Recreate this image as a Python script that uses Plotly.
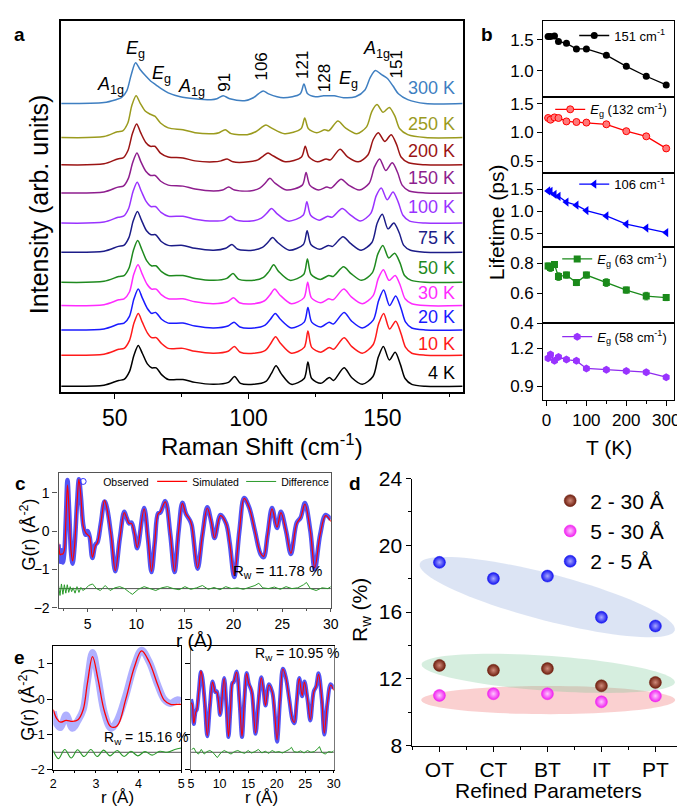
import numpy as np
import plotly.graph_objects as go

W, H = 685, 807
FONT = "Liberation Sans, Arial, Helvetica, sans-serif"


def fx(px):
    return px / W


def fy(py):
    return 1 - py / H


# ================= Panel a : Raman spectra =================
temp_labels = ["4 K", "10 K", "20 K", "30 K", "50 K", "75 K", "100 K", "150 K", "200 K", "250 K", "300 K"]
temp_colors = ["#000000", "#ff1a1a", "#1a1aff", "#ff2bff", "#1f8a1f", "#1c1c88",
               "#9a33ff", "#8e1e8e", "#9b1414", "#9b9b1e", "#3f7fc1"]
stack_offsets = [6, 38, 64, 89, 113, 144, 174, 205, 234, 262, 297]

shift_4K = [30, 46, 51.5, 53.5, 55.5, 57.2, 58.8, 60.3, 62.2, 63.8, 65.5, 67.5, 70, 75.5, 80, 87, 92.5, 94.8, 97, 102, 106.5, 108.5, 110.3, 112.2, 116, 120.8, 122.2, 123.6, 127, 130.2, 131.8, 135.7, 138.5, 142.5, 146.5, 148.5, 150.4, 152.6, 154.8, 156.8, 158.5, 161, 166, 180]
inten_4K = [0, 1, 6, 7, 15, 32, 42, 34, 23, 19, 19, 12, 7, 7, 4, 2, 4, 10, 3, 2, 5, 13, 21, 13, 2, 8, 25, 8, 3, 9, 6, 19, 9, 2, 10, 30, 41, 27, 35, 22, 8, 2, 0, 0]
shift_10K = [30, 46, 51.5, 53.5, 55.5, 57.2, 58.8, 60.3, 62.2, 63.8, 65.5, 67.5, 70, 75.5, 80, 87, 92.4, 94.7, 96.9, 102, 106.3, 108.3, 110.1, 112.0, 116, 120.8, 122.2, 123.6, 127, 130.2, 131.8, 135.7, 138.5, 142.5, 146.6, 148.6, 150.5, 152.7, 155.0, 157.0, 158.7, 161, 166, 180]
inten_10K = [0, 1, 6, 7, 15, 33, 43, 34, 23, 18, 18, 12, 7, 7, 4, 2, 4, 9, 3, 2, 5, 12, 19, 12, 2, 8, 25, 8, 3, 8, 6, 18, 9, 2, 11, 32, 43, 27, 35, 22, 8, 2, 0, 0]
shift_20K = [30, 46, 51.5, 53.5, 55.5, 57.2, 58.8, 60.3, 62.2, 63.8, 65.3, 67.5, 70, 75.5, 80, 87, 92.3, 94.6, 96.8, 102, 106.2, 108.2, 110.0, 111.9, 116, 120.8, 122.2, 123.6, 127, 130.1, 131.7, 135.7, 138.5, 142.5, 146.6, 148.6, 150.5, 152.7, 155.0, 157.0, 158.7, 161, 166, 180]
inten_20K = [0, 1, 6, 7, 14, 32, 42, 33, 22, 17, 18, 11, 7, 7, 4, 2, 4, 8, 3, 2, 5, 11, 17, 11, 2, 8, 23, 8, 3, 8, 6, 18, 9, 2, 10, 30, 41, 25, 35, 22, 8, 2, 0, 0]
shift_30K = [30, 46, 51.5, 53.5, 55.5, 57.1, 58.7, 60.2, 62.1, 63.8, 65.5, 67.5, 70, 75.5, 80, 87, 92.1, 94.4, 96.6, 102, 106.0, 108.0, 109.8, 111.7, 116, 120.7, 122.1, 123.5, 127, 130.0, 131.6, 135.6, 138.4, 142.5, 146.5, 148.5, 150.4, 152.5, 154.8, 156.8, 158.5, 161, 166, 180]
inten_30K = [0, 1, 6, 7, 14, 32, 42, 33, 22, 17, 17, 11, 7, 7, 4, 2, 4, 8, 3, 2, 5, 11, 17, 11, 2, 8, 24, 8, 3, 7, 6, 17, 9, 2, 10, 28, 37, 26, 31, 20, 7, 2, 0, 0]
shift_50K = [30, 46, 51.5, 53.5, 55.4, 57.0, 58.6, 60.1, 62.0, 63.7, 65.4, 67.5, 70, 75.5, 80, 87, 91.9, 94.2, 96.4, 102, 105.6, 107.6, 109.4, 111.3, 115.5, 120.6, 122.0, 123.4, 126.8, 130.0, 131.6, 135.5, 138.3, 142.3, 146.3, 148.3, 150.2, 152.4, 154.6, 156.6, 158.3, 160.8, 166, 180]
inten_50K = [0, 1, 6, 7, 15, 33, 43, 34, 22, 17, 17, 11, 7, 7, 4, 2, 4, 9, 3, 2, 5, 11, 18, 11, 2, 8, 24, 8, 3, 7, 6, 16, 9, 2, 10, 29, 38, 25, 30, 20, 7, 2, 0, 0]
shift_75K = [30, 46, 51.4, 53.4, 55.3, 56.9, 58.5, 60.0, 61.9, 63.6, 65.3, 67.4, 70, 75.5, 80, 87, 91.5, 93.8, 96.0, 101.5, 105.2, 107.2, 109.0, 110.9, 115.2, 120.5, 121.9, 123.3, 126.6, 129.8, 131.4, 135.3, 138.1, 142.1, 146.1, 148.1, 150.0, 152.1, 154.3, 156.3, 158.0, 160.5, 166, 180]
inten_75K = [0, 1, 6, 7, 15, 32, 42, 33, 22, 18, 18, 11, 7, 7, 4, 2, 4, 8, 3, 2, 5, 10, 15, 10, 2, 8, 22, 8, 3, 7, 6, 16, 9, 2, 10, 30, 39, 24, 30, 20, 7, 2, 0, 0]
shift_100K = [30, 46, 51.3, 53.3, 55.2, 56.8, 58.4, 59.9, 61.8, 63.5, 65.2, 67.3, 70, 75.5, 80, 87, 90.9, 93.2, 95.4, 101, 104.8, 106.8, 108.6, 110.5, 114.8, 120.4, 121.8, 123.2, 126.4, 129.6, 131.2, 135.0, 137.8, 141.8, 145.7, 147.7, 149.6, 151.8, 154.0, 156.0, 157.7, 160.2, 166, 180]
inten_100K = [0, 1, 6, 7, 15, 32, 42, 33, 22, 17, 17, 11, 7, 7, 4, 2, 3, 7, 3, 2, 5, 10, 15, 10, 2, 8, 22, 8, 3, 7, 6, 15, 9, 2, 10, 28, 36, 24, 32, 21, 8, 2, 0, 0]
shift_150K = [30, 46, 51.2, 53.2, 55.1, 56.7, 58.3, 59.8, 61.7, 63.4, 65.1, 67.2, 70, 75.5, 80, 87, 90.3, 92.6, 94.8, 100.5, 104.2, 106.2, 108.0, 109.9, 114.2, 120.1, 121.5, 122.9, 126.1, 129.3, 130.9, 134.6, 137.4, 141.4, 145.1, 147.1, 149.0, 151.3, 153.7, 155.7, 157.4, 160, 166, 180]
inten_150K = [0, 1, 6, 7, 15, 31, 41, 32, 22, 18, 18, 12, 8, 7, 4, 2, 3, 6, 3, 2, 5, 10, 15, 10, 3, 8, 21, 8, 3, 6, 5, 14, 8, 3, 10, 27, 35, 23, 31, 21, 8, 2, 0, 0]
shift_200K = [30, 46, 51.1, 53.1, 55.0, 56.6, 58.2, 59.7, 61.6, 63.3, 65.0, 67.1, 70, 75.5, 80, 87, 89.7, 92.0, 94.2, 100, 103.5, 105.5, 107.3, 109.3, 113.8, 119.8, 121.2, 122.6, 125.8, 129.0, 130.6, 134.2, 137.0, 141.0, 144.6, 146.6, 148.5, 150.9, 153.3, 155.3, 157.0, 159.8, 166, 180]
inten_200K = [0, 1, 6, 7, 15, 32, 42, 33, 23, 19, 19, 12, 8, 7, 4, 3, 4, 6, 3, 3, 5, 9, 12, 9, 3, 8, 19, 8, 3, 6, 5, 16, 8, 3, 10, 26, 33, 24, 31, 21, 8, 2, 0, 0]
shift_250K = [30, 46, 51.0, 53.0, 54.9, 56.4, 58.0, 59.6, 61.5, 63.3, 65.0, 67.1, 70, 75.5, 80, 87, 89.0, 91.3, 93.5, 99.5, 102.7, 104.7, 106.5, 108.5, 113.5, 119.6, 121.0, 122.4, 125.5, 128.5, 130.0, 133.4, 136.2, 140.5, 144.1, 146.1, 148.0, 150.3, 152.6, 154.7, 156.5, 159.5, 166, 180]
inten_250K = [0, 1, 6, 7, 15, 33, 43, 35, 27, 24, 22, 15, 10, 8, 5, 4, 5, 8, 4, 3, 6, 10, 13, 10, 4, 9, 20, 9, 5, 8, 7, 17, 10, 4, 11, 27, 34, 26, 31, 22, 9, 3, 0, 0]
shift_300K = [30, 46, 50.5, 52.5, 54.5, 56.2, 57.8, 59.5, 61.7, 63.5, 65.5, 67.5, 70, 74.5, 80, 86, 88.2, 90.5, 93, 98.5, 101.8, 103.7, 105.5, 107.5, 113, 119.3, 120.7, 122.1, 125, 128.0, 129.8, 132.0, 135.5, 140, 143.5, 145.5, 147.4, 149.6, 151.8, 154, 156, 159.5, 166, 180]
inten_300K = [0, 1, 4, 6, 13, 30, 42, 35, 28, 23, 19, 15, 11, 7, 5, 4, 5, 8, 5, 3, 6, 10, 13, 10, 6, 10, 20, 10, 7, 8, 8, 8, 6, 7, 14, 27, 34, 30, 26, 18, 10, 4, 0, 0]

raman_shifts = [shift_4K, shift_10K, shift_20K, shift_30K, shift_50K, shift_75K,
                shift_100K, shift_150K, shift_200K, shift_250K, shift_300K]
raman_intens = [inten_4K, inten_10K, inten_20K, inten_30K, inten_50K, inten_75K,
                inten_100K, inten_150K, inten_200K, inten_250K, inten_300K]

# ================= Panel b : phonon lifetimes =================
T_b = [4, 10, 20, 30, 50, 75, 100, 150, 200, 250, 300]
tau_151 = [1.55, 1.55, 1.56, 1.47, 1.44, 1.35, 1.35, 1.25, 1.07, 0.91, 0.77]
tau_132 = [1.25, 1.22, 1.26, 1.25, 1.19, 1.18, 1.17, 1.14, 1.02, 0.93, 0.72]
err_132 = [0.02, 0.02, 0.02, 0.02, 0.02, 0.02, 0.02, 0.02, 0.03, 0.03, 0.05]
tau_106 = [1.46, 1.45, 1.38, 1.34, 1.21, 1.14, 1.02, 0.90, 0.72, 0.63, 0.53]
tau_63 = [0.78, 0.77, 0.79, 0.71, 0.72, 0.67, 0.72, 0.67, 0.62, 0.58, 0.57]
err_63 = [0.02, 0.025, 0.02, 0.025, 0.02, 0.02, 0.02, 0.025, 0.02, 0.025, 0.02]
tau_58 = [1.12, 1.15, 1.10, 1.13, 1.11, 1.10, 1.04, 1.03, 1.02, 1.01, 0.97]
err_58 = [0.01, 0.01, 0.01, 0.01, 0.01, 0.01, 0.01, 0.01, 0.01, 0.01, 0.01]

# ================= Panel c / e : PDF G(r) =================
gr_r = [2.0, 2.1, 2.17, 2.3, 2.45, 2.6, 2.75, 2.92, 3.1, 3.3, 3.45, 3.65, 3.9, 4.1, 4.3,
        4.55, 4.8, 5.0, 5.2, 5.48, 5.8, 6.0, 6.35, 6.73, 6.97, 7.4, 7.84, 8.3, 8.76, 9.0,
        9.26, 9.5, 9.8, 10.1, 10.8, 11.2, 11.56, 11.9, 12.24, 12.47, 12.98, 13.5, 13.93, 14.35, 14.74,
        15.1, 15.5, 15.7, 16.3, 16.8, 17.3, 17.7, 18.05, 18.65, 19.23, 19.6, 20.07, 20.6, 21.09, 21.6,
        22.2, 22.78, 23.1, 23.5, 23.96, 24.47, 24.87, 25.4, 25.9, 26.5, 26.9, 27.34, 27.9, 28.35, 28.9,
        29.47, 30.0]
gr_obs = [-0.35, -0.72, -0.8, -0.5, -0.82, -0.55, 0.3, 1.33, 0.5, -0.6, -0.85, -0.4, 0.7, 1.35, 0.9,
          0.15, -0.1, 0.0, -0.15, -0.7, -0.35, -0.3, 0.2, 0.77, 0.62, -0.1, -1.05, -0.2, 0.5, 0.35,
          0.2, 0.22, -0.05, -0.45, 0.6, -0.2, -1.07, -0.3, 0.46, 0.48, 0.78, -0.1, -1.07, 0.0, 0.74,
          0.45, 0.28, 0.15, -0.98, -0.1, 0.62, 0.25, -0.18, 0.42, 0.2, -0.3, -1.2, 0.0, 0.86, 0.62,
          0.0, -0.6, -0.68, -0.1, 0.6, 0.08, 0.5, 0.0, -0.6, 0.22, 0.35, 0.73, 0.0, -1.0, -0.1,
          0.42, 0.3]
gr_sim = [-0.3, -0.55, -0.62, -0.6, -0.6, -0.5, 0.25, 1.2, 0.45, -0.55, -0.78, -0.4, 0.7, 1.35, 0.9,
          0.12, -0.05, -0.1, -0.15, -0.68, -0.38, -0.3, 0.2, 0.8, 0.6, -0.1, -1.03, -0.2, 0.48, 0.35,
          0.2, 0.2, -0.05, -0.43, 0.58, -0.2, -1.05, -0.3, 0.45, 0.5, 0.76, -0.1, -1.05, 0.0, 0.72,
          0.45, 0.3, 0.15, -0.96, -0.1, 0.6, 0.25, -0.18, 0.4, 0.2, -0.3, -1.15, 0.0, 0.85, 0.62,
          0.0, -0.58, -0.66, -0.1, 0.58, 0.1, 0.48, 0.0, -0.58, 0.2, 0.35, 0.7, 0.0, -0.96, -0.1,
          0.4, 0.25]
diff_r = [2.0, 2.15, 2.3, 2.45, 2.6, 2.75, 2.9, 3.05, 3.2, 3.35, 3.5, 3.7, 3.9, 4.1, 4.3,
          4.5, 4.8, 5.1, 5.5, 5.9, 6.3, 6.8, 7.3, 7.8, 8.3, 8.8, 9.3, 9.6, 10.2, 10.8,
          11.4, 12.0, 12.6, 13.2, 13.8, 14.4, 15.0, 15.6, 16.2, 16.8, 17.4, 18.0, 18.6, 19.2, 19.8,
          20.4, 21.0, 21.6, 22.2, 22.6, 23.0, 23.6, 24.2, 24.8, 25.4, 26.0, 26.6, 27.2, 27.5, 27.9,
          28.5, 29.1, 29.7, 30.0]
diff_g = [-1.42, -1.68, -1.38, -1.65, -1.4, -1.62, -1.4, -1.6, -1.45, -1.58, -1.48, -1.62, -1.45, -1.6, -1.47,
          -1.55, -1.5, -1.42, -1.38, -1.5, -1.55, -1.42, -1.55, -1.48, -1.45, -1.5, -1.6, -1.65, -1.52, -1.45,
          -1.5, -1.55, -1.48, -1.45, -1.5, -1.53, -1.45, -1.52, -1.48, -1.42, -1.52, -1.47, -1.53, -1.45, -1.5,
          -1.48, -1.52, -1.47, -1.42, -1.36, -1.48, -1.5, -1.46, -1.52, -1.45, -1.5, -1.48, -1.4, -1.34, -1.5,
          -1.55, -1.48, -1.5, -1.45]

e_short_r = [2.0, 2.08, 2.17, 2.3, 2.45, 2.58, 2.7, 2.8, 2.92, 3.05, 3.2, 3.35, 3.5, 3.7, 3.9,
             4.07, 4.25, 4.45, 4.6, 4.75, 4.9, 5.0]
e_short_obs = [-0.35, -0.7, -0.8, -0.45, -0.82, -0.6, -0.3, 0.5, 1.32, 0.6, -0.4, -0.82, -0.6, 0.1, 0.95,
               1.38, 1.05, 0.4, 0.0, -0.12, -0.02, -0.05]
e_short_sim = [-0.3, -0.55, -0.65, -0.6, -0.63, -0.58, -0.3, 0.45, 1.2, 0.55, -0.35, -0.78, -0.75, 0.0, 0.9,
               1.36, 1.05, 0.4, -0.03, -0.15, -0.15, -0.15]
e_short_diff_r = [2.0, 2.12, 2.27, 2.42, 2.57, 2.72, 2.88, 3.03, 3.18, 3.33, 3.5, 3.66, 3.82, 3.98, 4.15,
                  4.32, 4.5, 4.67, 4.85, 5.0]
e_short_diff = [-1.45, -1.68, -1.42, -1.66, -1.43, -1.62, -1.42, -1.62, -1.44, -1.6, -1.45, -1.62, -1.47, -1.6, -1.48,
                -1.58, -1.47, -1.5, -1.42, -1.38]

# ================= Panel d : Rw vs refined parameters =================
refined_params = ["OT", "CT", "BT", "IT", "PT"]
rw_2_30 = [12.81, 12.52, 12.62, 11.59, 11.79]
rw_5_30 = [11.01, 11.11, 11.11, 10.63, 10.98]
rw_2_5 = [18.98, 18.01, 18.16, 15.69, 15.17]

# ================= Figure =================
fig = go.Figure()

# ---- panel a traces
for lab, col, off, xs, ys in zip(temp_labels, temp_colors, stack_offsets, raman_shifts, raman_intens):
    fig.add_trace(go.Scatter(x=xs, y=[off + v for v in ys], mode="lines",
                             line=dict(color=col, width=1.5, shape="spline", smoothing=0.8),
                             showlegend=False, xaxis="x", yaxis="y", hoverinfo="skip"))

# ---- panel b traces
b_series = [
    (tau_151, None, "151 cm<sup>-1</sup>", "black", dict(symbol="circle", size=7, color="black"), "legend"),
    (tau_132, err_132, "<i>E</i><sub>g</sub> (132 cm<sup>-1</sup>)", "red",
     dict(symbol="circle", size=7, color="#ff7a7a", line=dict(color="red", width=1)), "legend2"),
    (tau_106, None, "106 cm<sup>-1</sup>", "blue", dict(symbol="triangle-left", size=8, color="blue"), "legend3"),
    (tau_63, err_63, "<i>E</i><sub>g</sub> (63 cm<sup>-1</sup>)", "#1a8a1a",
     dict(symbol="square", size=7, color="#1a8a1a"), "legend4"),
    (tau_58, err_58, "<i>E</i><sub>g</sub> (58 cm<sup>-1</sup>)", "#8f2bef",
     dict(symbol="hexagon", size=8, color="#9933ff"), "legend5"),
]
for i, (vals, errs, name, col, mk, lg) in enumerate(b_series):
    axn = str(i + 2)
    ekw = {}
    if errs is not None:
        ekw = dict(error_y=dict(type="data", array=errs, visible=True, color=col, thickness=1, width=2))
    fig.add_trace(go.Scatter(x=T_b, y=vals, mode="lines+markers", name=name,
                             line=dict(color=col, width=1.3), marker=mk,
                             xaxis="x" + axn, yaxis="y" + axn, legend=lg, **ekw))

# ---- panel c traces
fig.add_trace(go.Scatter(x=gr_r, y=gr_obs, mode="lines", line=dict(color="rgba(40,40,240,0.8)", width=4.5, shape="spline"),
                         showlegend=False, xaxis="x7", yaxis="y7"))
fig.add_trace(go.Scatter(x=[None], y=[None], mode="markers", name="Observed",
                         marker=dict(symbol="circle-open", size=6, color="#3333ff"),
                         xaxis="x7", yaxis="y7", legend="legend6"))
fig.add_trace(go.Scatter(x=gr_r, y=gr_sim, mode="lines", name="Simulated",
                         line=dict(color="red", width=1.2, shape="spline"),
                         xaxis="x7", yaxis="y7", legend="legend6"))
fig.add_trace(go.Scatter(x=diff_r, y=diff_g, mode="lines", name="Difference",
                         line=dict(color="#2a9a2a", width=1),
                         xaxis="x7", yaxis="y7", legend="legend6"))

# ---- panel e traces (left 2-5 A, right 5-30 A)
fig.add_trace(go.Scatter(x=e_short_r, y=e_short_obs, mode="lines",
                         line=dict(color="rgba(80,80,255,0.45)", width=7, shape="spline"),
                         showlegend=False, xaxis="x9", yaxis="y9"))
fig.add_trace(go.Scatter(x=e_short_r, y=e_short_sim, mode="lines",
                         line=dict(color="red", width=1.3, shape="spline"),
                         showlegend=False, xaxis="x9", yaxis="y9"))
fig.add_trace(go.Scatter(x=e_short_diff_r, y=e_short_diff, mode="lines",
                         line=dict(color="#2a9a2a", width=1.1, shape="spline"),
                         showlegend=False, xaxis="x9", yaxis="y9"))

long_r = [r for r in gr_r if r >= 5]
long_obs = [g for r, g in zip(gr_r, gr_obs) if r >= 5]
long_sim = [g for r, g in zip(gr_r, gr_sim) if r >= 5]
long_dr = [r for r in diff_r if r >= 5]
long_dg = [g for r, g in zip(diff_r, diff_g) if r >= 5]
fig.add_trace(go.Scatter(x=long_r, y=long_obs, mode="lines",
                         line=dict(color="rgba(40,40,240,0.8)", width=4, shape="spline"),
                         showlegend=False, xaxis="x10", yaxis="y10"))
fig.add_trace(go.Scatter(x=long_r, y=long_sim, mode="lines",
                         line=dict(color="red", width=1.1, shape="spline"),
                         showlegend=False, xaxis="x10", yaxis="y10"))
fig.add_trace(go.Scatter(x=long_dr, y=long_dg, mode="lines",
                         line=dict(color="#2a9a2a", width=1),
                         showlegend=False, xaxis="x10", yaxis="y10"))

# ---- panel d traces
d_series = [
    (rw_2_30, "2 - 30 Å", "#6e1e0e", "#d08a7a"),
    (rw_5_30, "5 - 30 Å", "#f020f0", "#ffc8ff"),
    (rw_2_5, "2 - 5 Å", "#1515f0", "#a8a8ff"),
]
for vals, name, col, hi in d_series:
    fig.add_trace(go.Scatter(x=list(range(len(refined_params))), y=vals, mode="markers", name=name,
                             marker=dict(size=12, color=col, line=dict(color=col, width=0.5),
                                         gradient=dict(type="radial", color=hi)),
                             xaxis="x8", yaxis="y8", legend="legend7"))

# ================= Axes =================
def ax(domain, rng, anchor, **kw):
    d = dict(domain=domain, range=rng, anchor=anchor, showline=True, linecolor="black", linewidth=1.2,
             mirror=True, ticks="outside", ticklen=5, tickwidth=1.1, tickcolor="black",
             showgrid=False, zeroline=False, fixedrange=True,
             tickfont=dict(family=FONT, size=14, color="black"))
    d.update(kw)
    return d


layout = dict(
    width=W, height=H, autosize=False,
    margin=dict(l=0, r=0, t=0, b=0),
    paper_bgcolor="white", plot_bgcolor="rgba(0,0,0,0)",
    font=dict(family=FONT, color="black"),
)

# panel a
layout["xaxis"] = ax([fx(51), fx(459)], [30, 180], "y", tickvals=[50, 100, 150],
                     tickfont=dict(family=FONT, size=23, color="black"), linewidth=1.5,
                     minor=dict(tickvals=[75, 125, 175], ticks="outside", ticklen=3, tickcolor="black"))
layout["yaxis"] = ax([fy(383), fy(1)], [0, 382], "x", showticklabels=False, ticks="", linewidth=1.5)

# panel b
rows_b = [(1, 79), (79, 157), (157, 234), (234, 312), (312, 391)]
ranges_b = [[0.58, 1.80], [0.30, 1.62], [0.20, 1.87], [0.40, 0.905], [0.79, 1.40]]
ticks_b = [[1.0, 1.5], [0.5, 1.0, 1.5], [0.5, 1.0, 1.5], [0.4, 0.6, 0.8], [0.9, 1.2]]
for i, ((top, bot), rng, tv) in enumerate(zip(rows_b, ranges_b, ticks_b)):
    n = str(i + 2)
    last = i == 4
    xkw = dict(tickvals=[0, 100, 200, 300], tickfont=dict(family=FONT, size=17, color="black"),
               minor=dict(tickvals=[50, 150, 250], ticks="outside", ticklen=3, tickcolor="black"))
    if not last:
        xkw.update(showticklabels=False, ticks="")
        xkw.pop("minor")
    layout["xaxis" + n] = ax([fx(541), fx(674)], [-8, 320], "y" + n, **xkw)
    layout["yaxis" + n] = ax([fy(bot), fy(top)], rng, "x" + n, tickvals=tv, tickformat=".1f",
                             tickfont=dict(family=FONT, size=17, color="black"))

# panel c
layout["xaxis7"] = ax([fx(48.3), fx(325)], [2, 30], "y7", tickvals=[5, 10, 15, 20, 25, 30],
                      linecolor="#555", tickcolor="#555", ticklen=3,
                      minor=dict(tickvals=[2.5, 7.5, 12.5, 17.5, 22.5, 27.5], ticks="outside", ticklen=2, tickcolor="#555"))
layout["yaxis7"] = ax([fy(605), fy(466)], [-2, 1.52], "x7", tickvals=[-2, -1, 0, 1],
                      linecolor="#555", tickcolor="#555")

# panel d
layout["xaxis8"] = ax([fx(408), fx(684)], [-0.5, 4.53], "y8", mirror=False, tickvals=[0, 1, 2, 3, 4],
                      ticktext=refined_params, tickfont=dict(family=FONT, size=21, color="black"),
                      minor=dict(tickvals=[-0.5, 0.5, 1.5, 2.5, 3.5, 4.5], ticks="outside", ticklen=3, tickcolor="black"))
layout["yaxis8"] = ax([fy(747), fy(472)], [8, 24], "x8", mirror=False, tickvals=[8, 12, 16, 20, 24],
                      tickfont=dict(family=FONT, size=21, color="black"),
                      minor=dict(tickvals=[10, 14, 18, 22], ticks="outside", ticklen=3, tickcolor="black"))

# panel e
efont = dict(family=FONT, size=12.5, color="black")
e_bottom = 772
layout["xaxis9"] = ax([fx(43), fx(173)], [2, 5], "y9", tickvals=[2, 3, 4, 5], ticklen=2, tickfont=efont,
                      minor=dict(tickvals=[2.5, 3.5, 4.5], ticks="outside", ticklen=2, tickcolor="black"))
layout["yaxis9"] = ax([fy(e_bottom), fy(644)], [-2, 1.51], "x9", tickvals=[-2, -1, 0, 1], tickfont=efont)
layout["xaxis10"] = ax([fx(183), fx(328)], [5, 30], "y10", tickvals=[5, 10, 15, 20, 25, 30], ticklen=2,
                       tickfont=efont,
                       minor=dict(tickvals=[7.5, 12.5, 17.5, 22.5, 27.5], ticks="outside", ticklen=2, tickcolor="black"))
layout["yaxis10"] = ax([fy(e_bottom), fy(644)], [-2, 1.51], "x10", tickvals=[-2, -1, 0, 1],
                       showticklabels=False, linecolor="#777")

# ================= Legends =================
def leg(px, py, size, xanchor="right", yanchor="middle", **kw):
    d = dict(x=fx(px), y=fy(py), xanchor=xanchor, yanchor=yanchor, bgcolor="rgba(0,0,0,0)",
             borderwidth=0, font=dict(family=FONT, size=size, color="black"), itemwidth=30,
             tracegroupgap=0)
    d.update(kw)
    return d


layout["legend"] = leg(670, 16, 13)
layout["legend2"] = leg(672, 92, 13)
layout["legend3"] = leg(670, 169, 13)
layout["legend4"] = leg(672, 246, 13)
layout["legend5"] = leg(672, 326, 13)
layout["legend6"] = leg(53, 475, 10.5, xanchor="left", orientation="h",
                        entrywidth=44, entrywidthmode="pixels")
layout["legend7"] = leg(548, 474, 21, xanchor="left", yanchor="top")

fig.update_layout(**layout)

# ================= Annotations =================
anns = []


def ann(text, px, py, size, angle=0, xanchor="center", color="black", **kw):
    anns.append(dict(text=text, x=fx(px), y=fy(py), xref="paper", yref="paper", showarrow=False,
                     xanchor=xanchor, yanchor="middle", textangle=angle,
                     font=dict(family=FONT, size=size, color=color), **kw))


# panel letters
ann("<b>a</b>", 9, 15, 19)
ann("<b>b</b>", 484, 15, 19)
ann("<b>c</b>", 10, 477, 19)
ann("<b>d</b>", 350, 477, 19)
ann("<b>e</b>", 9, 656, 19)

# panel a titles
ann("Raman Shift (cm<sup>-1</sup>)", 255, 437, 24)
ann("Intensity (arb. units)", 28, 190, 25, angle=-90)

# temperature labels
label_py = [363, 333, 306, 281, 255, 224, 193, 163, 135, 107, 70]
for lab, col, py in zip(temp_labels, temp_colors, label_py):
    ann(lab, 453, py, 18, xanchor="right", color=col)

# mode labels
A1g = "<i>A</i><sub>1g</sub>"
Eg = "<i>E</i><sub>g</sub>"
ann(A1g, 101, 67, 18)
ann(Eg, 127, 30, 18)
ann(Eg, 153, 56, 18)
ann(A1g, 183, 69, 18)
ann("91", 217, 64, 17, angle=-90)
ann("106", 255, 48, 17, angle=-90)
ann("121", 296, 46, 17, angle=-90)
ann("128", 318, 60, 17, angle=-90)
ann(Eg, 343, 61, 18)
ann(A1g, 371, 30, 18)
ann("151", 392, 46, 17, angle=-90)

# panel b titles
ann("Lifetime (ps)", 493, 208, 21, angle=-90)
ann("T (K)", 608, 440, 21)

# panel c titles
ann("G(r) (Å<sup>-2</sup>)", 18, 530, 18, angle=-90)
ann("r (Å)", 186, 639, 19)
ann("R<sub>w</sub> = 11.78 %", 271, 568, 15)

# panel d titles
ann("R<sub>w</sub> (%)", 355, 607, 21, angle=-90)
ann("Refined Parameters", 546, 793, 21)

# panel e titles
ann("G(r) (Å<sup>-2</sup>)", 17, 705, 18, angle=-90)
ann("r (Å)", 108, 800, 17)
ann("r (Å)", 255, 800, 17)
ann("R<sub>w</sub> = 15.16 %", 138, 739, 14)
ann("R<sub>w</sub> = 10.95 %", 291, 653, 14)

fig.update_layout(annotations=anns)

# ================= Shapes =================
def ellipse_path(cx, cy, a, b, ang_deg, n=90):
    t = np.linspace(0, 2 * np.pi, n)
    th = np.deg2rad(ang_deg)
    xs = cx + a * np.cos(t) * np.cos(th) - b * np.sin(t) * np.sin(th)
    ys = cy + a * np.cos(t) * np.sin(th) + b * np.sin(t) * np.cos(th)
    pts = [f"{fx(x):.5f},{fy(y):.5f}" for x, y in zip(xs, ys)]
    return "M " + " L ".join(pts) + " Z"


shapes = [
    dict(type="path", xref="paper", yref="paper", path=ellipse_path(546, 700, 129, 14.5, 0),
         fillcolor="rgba(240,120,120,0.35)", line=dict(width=0), layer="below"),
    dict(type="path", xref="paper", yref="paper", path=ellipse_path(546, 672.5, 129, 18, 4.1),
         fillcolor="rgba(120,200,150,0.3)", line=dict(width=0), layer="below"),
    dict(type="path", xref="paper", yref="paper", path=ellipse_path(545, 594, 134, 24, 14.8),
         fillcolor="rgba(140,165,220,0.3)", line=dict(width=0), layer="below"),
]
for yr, xr in [("y7", "x7 domain"), ("y9", "x9 domain"), ("y10", "x10 domain")]:
    shapes.append(dict(type="line", xref=xr, x0=0, x1=1, yref=yr, y0=-1.5, y1=-1.5,
                       line=dict(color="#555", width=1), layer="below"))
fig.update_layout(shapes=shapes)

fig.write_html("out.html")
